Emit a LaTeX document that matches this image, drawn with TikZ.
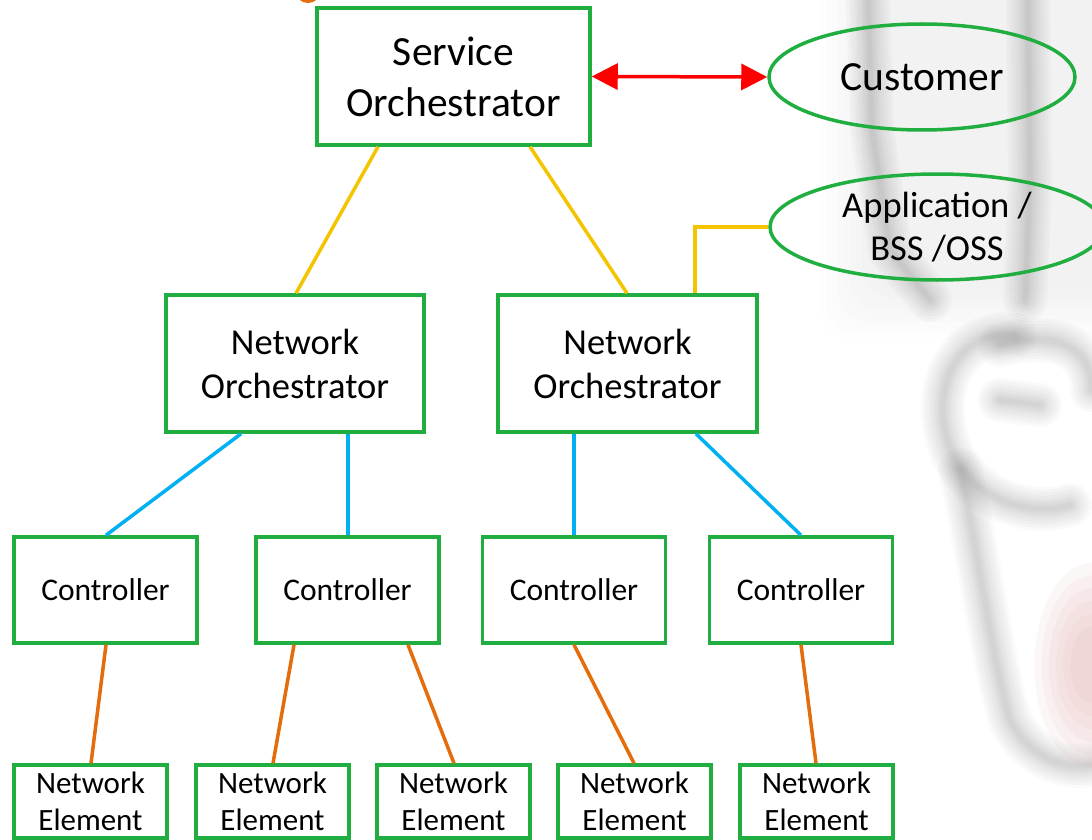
\documentclass[tikz,border=0pt]{standalone}
\usepackage{fontspec}
\setmainfont{Carlito}
\usetikzlibrary{arrows.meta,shapes.geometric,calc}

\definecolor{boxgreen}{RGB}{32,174,64}
\definecolor{linkgold}{RGB}{245,196,0}
\definecolor{linkblue}{RGB}{0,176,240}
\definecolor{linkorange}{RGB}{228,108,10}
\definecolor{linkred}{RGB}{255,0,0}
\definecolor{sketch}{RGB}{80,80,80}
\definecolor{blush}{RGB}{215,150,150}

\tikzset{
  unit/.style={draw=boxgreen, line width=3.5pt, rectangle, inner sep=0pt, align=center},
  svcbox/.style={unit, minimum width=273pt, minimum height=137pt,
    font=\fontsize{41.5}{51}\selectfont},
  netbox/.style={unit, minimum width=258pt, minimum height=137pt,
    font=\fontsize{36.5}{44}\selectfont},
  ctlbox/.style={unit, minimum width=183pt, minimum height=106pt,
    font=\fontsize{31.5}{38}\selectfont},
  elembox/.style={unit, minimum width=153pt, minimum height=73pt,
    font=\fontsize{31}{37}\selectfont},
  party/.style={draw=boxgreen, line width=3.5pt, ellipse, inner sep=0pt},
  goldlink/.style={draw=linkgold, line width=3.5pt},
  bluelink/.style={draw=linkblue, line width=3.5pt},
  orangelink/.style={draw=linkorange, line width=3.5pt},
  redlink/.style={draw=linkred, line width=3.5pt,
    {Triangle[length=26pt,width=26pt]}-{Triangle[length=26pt,width=26pt]}},
  haze/.style={draw=sketch, line cap=round, line join=round, opacity=0.03}
}

\begin{document}
\begin{tikzpicture}[x=1pt,y=-1pt]
\useasboundingbox (0,0) rectangle (1092,840);
\clip (0,0) rectangle (1092,840);

% soft pencil sketch behind the diagram
\foreach \d in {0,6,...,48}{
  \fill[gray, opacity=0.012, rounded corners=30pt]
    (820+\d,-40) rectangle (1130,340-\d);
}
\foreach \w in {44,38,32,26,21,16,12,8,5}{
  \draw[haze, line width=\w pt] (868,0) -- (872,130) -- (890,250) -- (930,300);
  \draw[haze, line width=\w pt] (1028,0) -- (1030,180) -- (1025,300);
  \draw[haze, line width=\w pt] (1015,335) .. controls (960,330) and (935,380) .. (945,430)
        .. controls (955,490) and (1020,520) .. (1070,505);
  \draw[haze, line width=\w pt] (1000,345) .. controls (1060,330) and (1092,350) .. (1092,390);
  \draw[haze, line width=\w pt] (960,470) .. controls (980,560) and (990,650) .. (1010,720)
        .. controls (1030,760) and (1070,770) .. (1092,765);
  \draw[haze, line width=\w pt] (1000,400) -- (1040,405);
}
\foreach \r in {64,56,48,40,32,24}{
  \fill[blush, opacity=0.08] (1092,665) ellipse ({\r*0.9} and {\r*1.6});
}
\fill[linkorange] (308,-8) ellipse (12 and 11);

% nodes
\node[svcbox] (so) at (453.5,76.5) {Service\\Orchestrator};
\node[party, minimum width=306pt, minimum height=106pt] (cust) at (922,77) {};
\node[font=\fontsize{41.5}{51}\selectfont] at (cust.center) {Customer};
\node[party, minimum width=334pt, minimum height=106pt] (app) at (937,227) {};
\node[align=center, font=\fontsize{36.5}{43}\selectfont] at (app.center) {Application /\\BSS /OSS};

\node[netbox] (no1) at (295,363.5) {Network\\Orchestrator};
\node[netbox, minimum width=259pt] (no2) at (627.5,363.5) {Network\\Orchestrator};

\node[ctlbox] (c1) at (105.5,590) {Controller};
\node[ctlbox] (c2) at (347.5,590) {Controller};
\node[ctlbox] (c3) at (574,590) {Controller};
\node[ctlbox] (c4) at (801,590) {Controller};

\node[elembox] (ne1) at (90.5,801.5) {Network\\Element};
\node[elembox] (ne2) at (272.5,801.5) {Network\\Element};
\node[elembox] (ne3) at (453.5,801.5) {Network\\Element};
\node[elembox] (ne4) at (634.5,801.5) {Network\\Element};
\node[elembox] (ne5) at (816.5,801.5) {Network\\Element};

% connectors
\draw[redlink] (so.east) -- (cust.west);

\draw[goldlink] ([xshift=-75.5pt]so.south) -- ([xshift=1pt]no1.north);
\draw[goldlink] ([xshift=76.5pt]so.south) -- ([xshift=-0.5pt]no2.north);
\draw[goldlink] (app.west) -| ([xshift=67.5pt]no2.north);

\draw[bluelink] ([xshift=-54pt]no1.south) -- ([xshift=0.5pt]c1.north);
\draw[bluelink] ([xshift=53pt]no1.south) -- ([xshift=0.5pt]c2.north);
\draw[bluelink] ([xshift=-53.5pt]no2.south) -- (c3.north);
\draw[bluelink] ([xshift=68.5pt]no2.south) -- (c4.north);

\draw[orangelink] ([xshift=0.5pt]c1.south) -- ([xshift=0.5pt]ne1.north);
\draw[orangelink] ([xshift=-53.5pt]c2.south) -- ([xshift=0.5pt]ne2.north);
\draw[orangelink] ([xshift=60.5pt]c2.south) -- ([xshift=0.5pt]ne3.north);
\draw[orangelink] (c3.south) -- ([xshift=-0.5pt]ne4.north);
\draw[orangelink] (c4.south) -- ([xshift=-0.5pt]ne5.north);
\end{tikzpicture}
\end{document}
